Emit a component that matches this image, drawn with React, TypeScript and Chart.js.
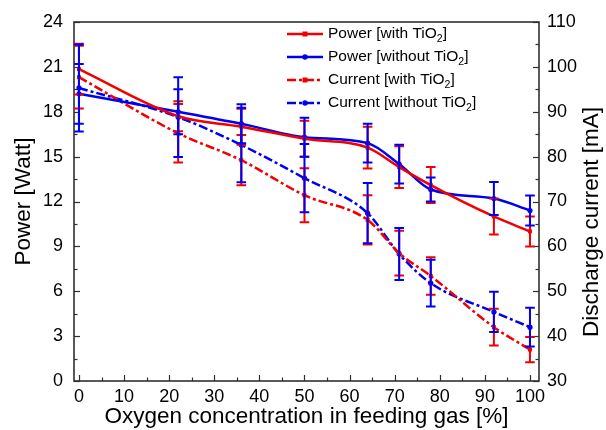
import React, { useEffect, useRef } from "react";
import { Chart, registerables } from "chart.js";

Chart.register(...registerables);

// ---- data ----
const oxygen = [0, 22, 36, 50, 64, 71, 78, 92, 100];

const powerWith = [20.85, 17.7, 17.0, 16.2, 15.6, 14.3, 13.1, 11.0, 10.0];
const powerWithErr = [1.7, 1.0, 1.2, 1.2, 1.4, 1.4, 1.2, 1.2, 1.0];
const powerWithout = [19.2, 18.0, 17.2, 16.3, 15.9, 14.5, 12.8, 12.2, 11.4];
const powerWithoutErr = [2.0, 1.5, 1.3, 1.3, 1.3, 1.3, 0.8, 1.1, 1.0];

const currentWith = [97.7, 85.2, 79.2, 71.4, 65.9, 58.5, 53.4, 42.0, 37.0];
const currentWithErr = [7.0, 6.5, 5.6, 6.0, 5.5, 5.0, 4.2, 4.1, 2.8];
const currentWithout = [95.3, 88.8, 82.6, 75.2, 67.4, 58.3, 51.8, 45.4, 42.0];
const currentWithoutErr = [9.7, 8.9, 8.3, 7.6, 6.7, 5.8, 5.2, 4.5, 4.3];

const xTicks = [0, 10, 20, 30, 40, 50, 60, 70, 80, 90, 100];
const powerTicks = [0, 3, 6, 9, 12, 15, 18, 21, 24];
const currentTicks = [30, 40, 50, 60, 70, 80, 90, 100, 110];

const legendLabels = [
  ["Power [with TiO", "2", "]"],
  ["Power [without TiO", "2", "]"],
  ["Current [with TiO", "2", "]"],
  ["Current [without TiO", "2", "]"],
];

const xTitle = "Oxygen concentration in feeding gas [%]";
const yTitle = "Power [Watt]";
const y1Title = "Discharge current [mA]";

// ---- style ----
const RED = "#f20000";
const BLUE = "#0000f0";
const AXIS = "#303030";
const FONT = "'Liberation Sans', Arial, sans-serif";
const DASHDOT = [9, 3, 3, 3];

const errs = [powerWithErr, powerWithoutErr, currentWithErr, currentWithoutErr];

function minorTicks(arr: number[]) {
  const out: number[] = [];
  for (let i = 0; i < arr.length - 1; i++) out.push((arr[i] + arr[i + 1]) / 2);
  return out;
}

const frameTicksPlugin = {
  id: "frameTicks",
  beforeDatasetsDraw(chart: any) {
    const { ctx, chartArea: a, scales } = chart;
    ctx.save();
    ctx.strokeStyle = AXIS;
    ctx.lineWidth = 1.2;
    const seg = (x1: number, y1: number, x2: number, y2: number) => {
      ctx.beginPath();
      ctx.moveTo(x1, y1);
      ctx.lineTo(x2, y2);
      ctx.stroke();
    };
    const xs = scales.x;
    xTicks.forEach((v) => { const p = Math.round(xs.getPixelForValue(v)) + 0.5; seg(p, a.bottom, p, a.bottom - 6); });
    minorTicks(xTicks).forEach((v) => { const p = Math.round(xs.getPixelForValue(v)) + 0.5; seg(p, a.bottom, p, a.bottom - 3.5); });
    const ys = scales.y;
    powerTicks.forEach((v) => { const p = Math.round(ys.getPixelForValue(v)) + 0.5; seg(a.left, p, a.left + 6, p); });
    minorTicks(powerTicks).forEach((v) => { const p = Math.round(ys.getPixelForValue(v)) + 0.5; seg(a.left, p, a.left + 3.5, p); });
    const y1 = scales.y1;
    currentTicks.forEach((v) => { const p = Math.round(y1.getPixelForValue(v)) + 0.5; seg(a.right, p, a.right - 6, p); });
    minorTicks(currentTicks).forEach((v) => { const p = Math.round(y1.getPixelForValue(v)) + 0.5; seg(a.right, p, a.right - 3.5, p); });
    ctx.lineWidth = 1.6;
    ctx.strokeRect(a.left, a.top, a.right - a.left, a.bottom - a.top);
    ctx.restore();
  },
};

const errorBarPlugin = {
  id: "errorBars",
  afterDatasetsDraw(chart: any) {
    const { ctx, scales } = chart;
    const xs = scales.x;
    ctx.save();
    [0, 2, 1, 3].forEach((di) => {
      const ds = chart.data.datasets[di];
      const ys = scales[ds.yAxisID];
      const err = errs[di];
      ctx.strokeStyle = ds.borderColor;
      ctx.lineWidth = 2;
      ctx.setLineDash([]);
      ds.data.forEach((pt: any, j: number) => {
        const x = xs.getPixelForValue(pt.x);
        const yt = ys.getPixelForValue(pt.y + err[j]);
        const yb = ys.getPixelForValue(pt.y - err[j]);
        ctx.beginPath();
        ctx.moveTo(x, yt);
        ctx.lineTo(x, yb);
        ctx.moveTo(x - 4.8, yt);
        ctx.lineTo(x + 4.8, yt);
        ctx.moveTo(x - 4.8, yb);
        ctx.lineTo(x + 4.8, yb);
        ctx.stroke();
      });
    });
    ctx.restore();
  },
};

const legendPlugin = {
  id: "customLegend",
  afterDraw(chart: any) {
    const { ctx } = chart;
    ctx.save();
    const rows = [34, 57, 80, 103];
    chart.data.datasets.forEach((ds: any, i: number) => {
      const y = rows[i];
      ctx.strokeStyle = ds.borderColor;
      ctx.fillStyle = ds.borderColor;
      ctx.lineWidth = 2.5;
      ctx.setLineDash(ds.borderDash || []);
      ctx.beginPath();
      ctx.moveTo(287, y);
      ctx.lineTo(323, y);
      ctx.stroke();
      ctx.setLineDash([]);
      if (ds.pointStyle === "rect") ctx.fillRect(305 - 2.5, y - 2.5, 5, 5);
      else { ctx.beginPath(); ctx.arc(305, y, 2.7, 0, Math.PI * 2); ctx.fill(); }
      const [main, sub, tail] = legendLabels[i];
      ctx.fillStyle = "#000";
      ctx.textBaseline = "middle";
      ctx.textAlign = "left";
      ctx.font = `15.5px ${FONT}`;
      let x = 328;
      ctx.fillText(main, x, y);
      x += ctx.measureText(main).width;
      ctx.font = `10.5px ${FONT}`;
      ctx.fillText(sub, x, y + 5);
      x += ctx.measureText(sub).width;
      ctx.font = `15.5px ${FONT}`;
      ctx.fillText(tail, x, y);
    });
    // right axis title
    ctx.translate(592, 222);
    ctx.rotate(-Math.PI / 2);
    ctx.font = `22.5px ${FONT}`;
    ctx.fillStyle = "#000";
    ctx.textAlign = "center";
    ctx.textBaseline = "middle";
    ctx.fillText(y1Title, 0, 0);
    ctx.restore();
  },
};

function makeDataset(label: string, values: number[], color: string, axis: string, dashed: boolean, rect: boolean) {
  return {
    label,
    data: oxygen.map((x, i) => ({ x, y: values[i] })),
    yAxisID: axis,
    borderColor: color,
    backgroundColor: color,
    borderWidth: 2.5,
    borderDash: dashed ? DASHDOT : [],
    pointStyle: rect ? "rect" : "circle",
    pointRadius: rect ? 2.8 : 2.6,
    pointBackgroundColor: color,
    pointBorderColor: color,
    pointBorderWidth: 0,
    cubicInterpolationMode: "monotone",
    fill: false,
  };
}

export default function App() {
  const ref = useRef<HTMLCanvasElement | null>(null);
  useEffect(() => {
    if (!ref.current) return;
    const tickFont = { family: FONT, size: 18 };
    const chart = new Chart(ref.current, {
      type: "line",
      data: {
        datasets: [
          makeDataset("Power [with TiO2]", powerWith, RED, "y", false, true),
          makeDataset("Power [without TiO2]", powerWithout, BLUE, "y", false, false),
          makeDataset("Current [with TiO2]", currentWith, RED, "y1", true, true),
          makeDataset("Current [without TiO2]", currentWithout, BLUE, "y1", true, false),
        ] as any,
      },
      options: {
        responsive: false,
        animation: false,
        layout: { padding: { top: 22, left: 0, right: 0, bottom: 0 } },
        plugins: { legend: { display: false }, title: { display: false }, tooltip: { enabled: false } },
        scales: {
          x: {
            type: "linear",
            position: "bottom",
            min: -1.1,
            max: 102,
            afterBuildTicks: (s: any) => { s.ticks = xTicks.map((v) => ({ value: v })); },
            afterFit: (s: any) => { s.height = 49; },
            grid: { display: false, drawTicks: false },
            border: { display: false },
            ticks: { font: tickFont, color: "#000", padding: 5, maxRotation: 0, autoSkip: false },
            title: { display: true, text: xTitle, font: { family: FONT, size: 22.5 }, color: "#000", padding: { top: 0, bottom: 0 } },
          },
          y: {
            type: "linear",
            position: "left",
            min: 0,
            max: 24,
            afterBuildTicks: (s: any) => { s.ticks = powerTicks.map((v) => ({ value: v })); },
            afterFit: (s: any) => { s.width = 74; },
            grid: { display: false, drawTicks: false },
            border: { display: false },
            ticks: { font: tickFont, color: "#000", padding: 11, autoSkip: false },
            title: { display: true, text: yTitle, font: { family: FONT, size: 22.5 }, color: "#000", padding: { top: 10, bottom: 0 } },
          },
          y1: {
            type: "linear",
            position: "right",
            min: 30,
            max: 110,
            afterBuildTicks: (s: any) => { s.ticks = currentTicks.map((v) => ({ value: v })); },
            afterFit: (s: any) => { s.width = 67; },
            grid: { display: false, drawTicks: false },
            border: { display: false },
            ticks: { font: tickFont, color: "#000", padding: 8, autoSkip: false },
          },
        },
      } as any,
      plugins: [frameTicksPlugin, errorBarPlugin, legendPlugin],
    });
    return () => chart.destroy();
  }, []);
  return (
    <div style={{ position: "absolute", left: 0, top: 0, width: 606, height: 430, background: "#fff" }}>
      <canvas ref={ref} width={606} height={430} />
    </div>
  );
}
